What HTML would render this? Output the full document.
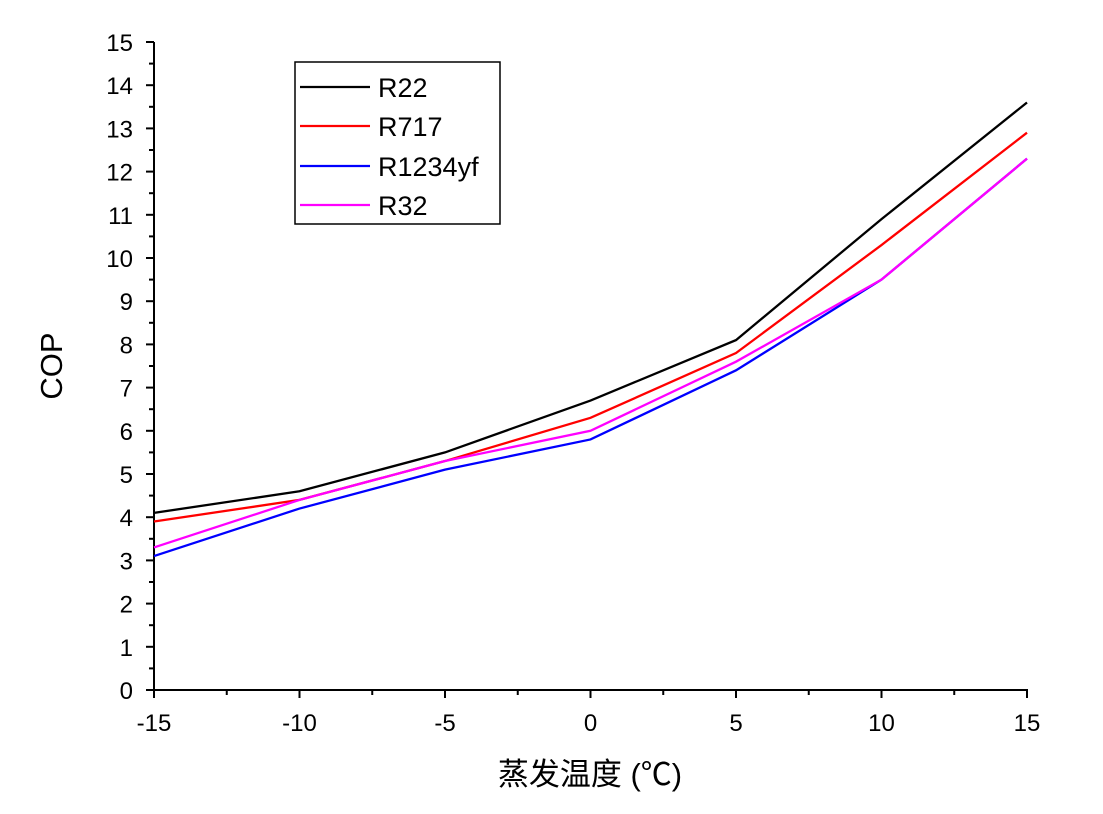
<!DOCTYPE html>
<html><head><meta charset="utf-8"><style>
body{margin:0;background:#fff;}
text{font-family:"Liberation Sans","Noto Sans CJK SC",sans-serif;fill:#000;}
</style></head><body>
<svg width="1103" height="809" viewBox="0 0 1103 809" xmlns="http://www.w3.org/2000/svg">
<g stroke="#000" stroke-width="2" fill="none">
<line x1="154" y1="42" x2="154" y2="691"/>
<line x1="153" y1="690" x2="1028" y2="690"/>
</g>
<g id="yt" stroke="#000" stroke-width="2"></g>
<g id="xt" stroke="#000" stroke-width="2"></g>
<g id="yl" font-size="24" text-anchor="end"></g>
<g id="xl" font-size="24" text-anchor="middle"></g>
<text x="62" y="366" font-size="31" text-anchor="middle" transform="rotate(-90 62 366)">COP</text>
<text x="590" y="785" font-size="31" text-anchor="middle">蒸发温度 (℃)</text>
<g id="lines" fill="none" stroke-width="2.3"></g>
<rect x="295" y="62" width="205" height="162" fill="#fff" stroke="#000" stroke-width="1.5"/>
<g stroke-width="2.3">
<line x1="300" y1="87" x2="370" y2="87" stroke="#000"/>
<line x1="300" y1="126" x2="370" y2="126" stroke="#f00"/>
<line x1="300" y1="166" x2="370" y2="166" stroke="#00f"/>
<line x1="300" y1="205" x2="370" y2="205" stroke="#f0f"/>
</g>
<g font-size="27">
<text x="378" y="97">R22</text>
<text x="378" y="136">R717</text>
<text x="378" y="176">R1234yf</text>
<text x="378" y="215">R32</text>
</g>
<script>
var ns="http://www.w3.org/2000/svg";
function X(v){return 154+(v+15)*873/30;}
function Y(v){return 690-v*648/15;}
function el(p,t,a,txt){var e=document.createElementNS(ns,t);for(var k in a)e.setAttribute(k,a[k]);if(txt!==undefined)e.textContent=txt;document.getElementById(p).appendChild(e);}
for(var i=0;i<=30;i++){var v=i/2,y=Y(v),l=(i%2==0)?8:5;el("yt","line",{x1:154-l,y1:y,x2:154,y2:y});if(i%2==0)el("yl","text",{x:133,y:y+9},v);}
for(var i=0;i<=12;i++){var v=-15+i*2.5,x=X(v),l=(i%2==0)?8:5;el("xt","line",{x1:x,y1:690,x2:x,y2:690+l});if(i%2==0)el("xl","text",{x:x,y:731},v);}
var xs=[-15,-10,-5,0,5,10,15];
var S=[["#000",[4.1,4.6,5.5,6.7,8.1,10.9,13.6]],["#f00",[3.9,4.4,5.3,6.3,7.8,10.3,12.9]],["#00f",[3.1,4.2,5.1,5.8,7.4,9.5,12.3]],["#f0f",[3.3,4.4,5.3,6.0,7.6,9.5,12.3]]];
S.forEach(function(s){el("lines","polyline",{stroke:s[0],points:xs.map(function(x,i){return X(x)+","+Y(s[1][i]);}).join(" ")});});
</script>
</svg>
</body></html>
